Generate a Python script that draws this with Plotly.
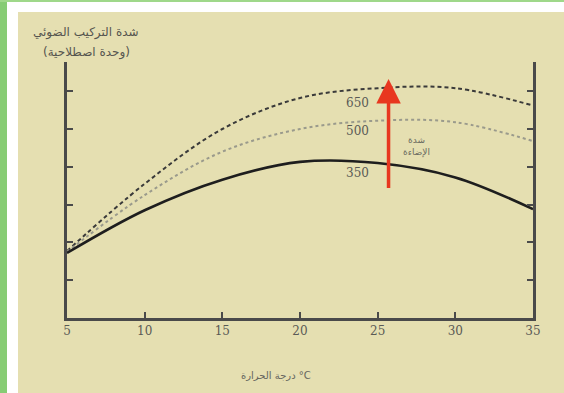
import plotly.graph_objects as go

# ---------------- data ----------------
temperature = [5, 10, 15, 20, 25, 30, 35]
rate_350 = [1.72, 2.85, 3.66, 4.13, 4.10, 3.72, 2.88]
rate_500 = [1.75, 3.25, 4.40, 5.00, 5.22, 5.18, 4.68]
rate_650 = [1.77, 3.55, 5.00, 5.82, 6.08, 6.08, 5.62]
curve_labels = ["650", "500", "350"]
label_y = [5.69, 4.95, 3.84]
x_ticks = [5, 10, 15, 20, 25, 30, 35]
y_ticks = [1, 2, 3, 4, 5, 6]
arrow_x = 25.7
arrow_from, arrow_to = 3.4, 6.32

W, H = 564, 393
L, R, T, B = 67, 533, 62, 318
BG = "#e5dfb1"
AX = "#4a4a4a"
TXT = "#5a5a55"

def px(x):
    return (x - L) / (R - L)

def py(y):
    return (B - y) / (B - T)

fig = go.Figure()
fig.add_trace(go.Scatter(x=temperature, y=rate_650, mode="lines",
                         line=dict(color="#3a3a3a", width=2, dash="4px,3px", shape="spline", smoothing=1.0)))
fig.add_trace(go.Scatter(x=temperature, y=rate_500, mode="lines",
                         line=dict(color="#9a9a8c", width=2, dash="dot", shape="spline", smoothing=1.0)))
fig.add_trace(go.Scatter(x=temperature, y=rate_350, mode="lines",
                         line=dict(color="#1e1e1e", width=2.6, shape="spline", smoothing=1.0)))

annotations = []
for lab, yv in zip(curve_labels, label_y):
    annotations.append(dict(x=23.7, y=yv, text=lab, showarrow=False, xanchor="center", yanchor="middle",
                            font=dict(family="DejaVu Serif", size=12, color=TXT)))
annotations.append(dict(x=arrow_x, y=arrow_to, ax=arrow_x, ay=arrow_from, xref="x", yref="y",
                        axref="x", ayref="y", text="", showarrow=True, arrowhead=2, arrowsize=1.4,
                        arrowwidth=3.5, arrowcolor="#e8371f"))
annotations.append(dict(x=27.5, y=4.55, text="شدة<br>الإضاءة", showarrow=False,
                        font=dict(family="DejaVu Sans", size=9, color="#6a6a60"), align="center"))
annotations.append(dict(x=px(86), y=py(32), xref="paper", yref="paper", text="شدة التركيب الضوئي",
                        showarrow=False, xanchor="center", yanchor="middle",
                        font=dict(family="DejaVu Sans", size=12, color="#55554f")))
annotations.append(dict(x=px(86), y=py(52), xref="paper", yref="paper", text="(وحدة اصطلاحية)",
                        showarrow=False, xanchor="center", yanchor="middle",
                        font=dict(family="DejaVu Sans", size=12, color="#55554f")))
annotations.append(dict(x=px(276), y=py(375), xref="paper", yref="paper", text="درجة الحرارة °C",
                        showarrow=False, xanchor="center", yanchor="middle",
                        font=dict(family="DejaVu Sans", size=10, color="#66665e")))

shapes = [
    dict(type="rect", xref="paper", yref="paper", x0=px(0), x1=px(7), y0=py(H), y1=py(0),
         fillcolor="#86cc74", line=dict(width=0), layer="below"),
    dict(type="rect", xref="paper", yref="paper", x0=px(0), x1=px(W), y0=py(2), y1=py(0),
         fillcolor="#9fd88a", line=dict(width=0), layer="below"),
    dict(type="rect", xref="paper", yref="paper", x0=px(7), x1=px(18), y0=py(H), y1=py(2),
         fillcolor="#ffffff", line=dict(width=0), layer="below"),
    dict(type="rect", xref="paper", yref="paper", x0=px(7), x1=px(W), y0=py(12), y1=py(2),
         fillcolor="#ffffff", line=dict(width=0), layer="below"),
]

fig.update_layout(
    width=W, height=H,
    margin=dict(l=L, r=W - R, t=T, b=H - B),
    paper_bgcolor=BG, plot_bgcolor=BG,
    showlegend=False,
    annotations=annotations,
    shapes=shapes,
    xaxis=dict(range=[5, 35], tickvals=x_ticks, ticktext=[str(v) for v in x_ticks],
               showgrid=False, zeroline=False, showline=True, linecolor=AX, linewidth=2.5,
               ticks="inside", ticklen=6, tickwidth=1.5, tickcolor=AX, mirror=False,
               tickfont=dict(family="DejaVu Serif", size=12, color=TXT)),
    yaxis=dict(range=[0, (B - T) / 37.8], tickvals=y_ticks, showticklabels=False,
               showgrid=False, zeroline=False, showline=True, linecolor=AX, linewidth=2.5,
               ticks="inside", ticklen=6, tickwidth=1.5, tickcolor=AX, mirror="ticks"),
)

fig.write_html("out.html", config={"displayModeBar": False},
               post_script="document.body.style.margin='0';document.body.style.overflow='hidden';")
